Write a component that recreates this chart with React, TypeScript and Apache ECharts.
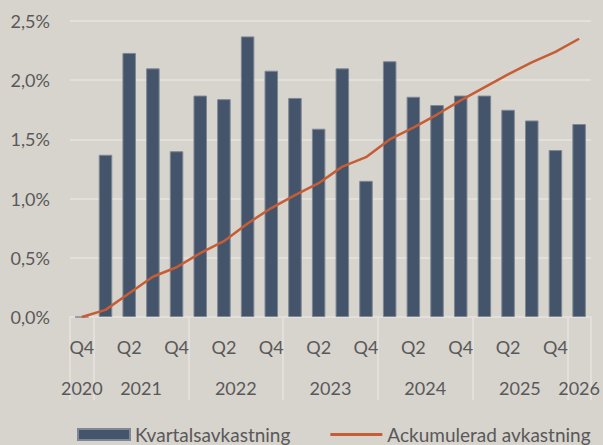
import React, { useEffect, useRef } from "react";
import * as echarts from "echarts";

const quarters = ["Q4", "Q1", "Q2", "Q3", "Q4", "Q1", "Q2", "Q3", "Q4", "Q1", "Q2", "Q3", "Q4", "Q1", "Q2", "Q3", "Q4", "Q1", "Q2", "Q3", "Q4", "Q1"];
const years = ["2020", "2021", "2022", "2023", "2024", "2025", "2026"];
const quartersPerYear = [1, 4, 4, 4, 4, 4, 1];
const quarterlyReturn = [0, 1.37, 2.23, 2.1, 1.4, 1.87, 1.84, 2.37, 2.08, 1.85, 1.59, 2.1, 1.15, 2.16, 1.86, 1.79, 1.87, 1.87, 1.75, 1.66, 1.41, 1.63];
const cumulativeReturn = [0, 0.06, 0.2, 0.34, 0.42, 0.54, 0.64, 0.79, 0.92, 1.03, 1.13, 1.27, 1.35, 1.5, 1.6, 1.71, 1.83, 1.94, 2.05, 2.15, 2.24, 2.35];
const seriesNames = ["Kvartalsavkastning", "Ackumulerad avkastning"];

const yearStarts: number[] = [];
const yearCenters: number[] = [];
{
  let s = 0;
  quartersPerYear.forEach((c) => {
    yearStarts.push(s);
    yearCenters.push(s + c / 2);
    s += c;
  });
}

const FONT = "Lato";
const TEXT = "#595959";
const GRIDC = "#e3e0dc";

export default function App() {
  const ref = useRef<HTMLDivElement>(null);
  useEffect(() => {
    if (!ref.current) return;
    const chart = echarts.init(ref.current, null, { renderer: "svg" });
    chart.setOption({
      animation: false,
      backgroundColor: "#d7d3cd",
      textStyle: { fontFamily: FONT },
      grid: { left: 70, right: 11, top: 21, bottom: 128 },
      legend: {
        top: 425,
        left: 77,
        itemWidth: 52,
        itemHeight: 11,
        itemGap: 40,
        padding: 0,
        textStyle: { fontFamily: FONT, fontSize: 19, color: TEXT },
        data: [
          { name: seriesNames[0], icon: "rect" },
          { name: seriesNames[1], icon: "path://M0,0H52V3H0Z" },
        ],
      },
      xAxis: [
        {
          type: "category",
          data: quarters,
          boundaryGap: true,
          axisLine: { show: true, lineStyle: { color: GRIDC, width: 2 } },
          axisTick: {
            show: true,
            length: 83,
            interval: (i: number) => yearStarts.includes(i),
            lineStyle: { color: GRIDC, width: 2 },
          },
          axisLabel: {
            interval: 1,
            margin: 21,
            fontFamily: FONT,
            fontSize: 18,
            color: TEXT,
          },
        },
        {
          type: "value",
          position: "bottom",
          min: 0,
          max: quarters.length,
          interval: 0.5,
          axisLine: { show: false },
          axisTick: { show: false },
          splitLine: { show: false },
          axisLabel: {
            margin: 62,
            fontFamily: FONT,
            fontSize: 18,
            color: TEXT,
            showMinLabel: true,
            showMaxLabel: true,
            formatter: (v: number) => {
              const i = yearCenters.findIndex((c) => Math.abs(c - v) < 0.01);
              return i >= 0 ? years[i] : "";
            },
          },
        },
      ],
      yAxis: {
        type: "value",
        min: 0,
        max: 2.5,
        interval: 0.5,
        axisLine: { show: false },
        axisTick: { show: false },
        splitLine: { show: true, lineStyle: { color: GRIDC, width: 2 } },
        axisLabel: {
          margin: 20,
          fontFamily: FONT,
          fontSize: 18,
          color: TEXT,
          formatter: (v: number) => v.toFixed(1).replace(".", ",") + "%",
        },
      },
      series: [
        {
          name: seriesNames[0],
          type: "bar",
          data: quarterlyReturn,
          barCategoryGap: "43%",
          itemStyle: { color: "#44546a", borderColor: "#7d8795", borderWidth: 1 },
        },
        {
          name: seriesNames[1],
          type: "line",
          data: cumulativeReturn,
          symbol: "none",
          showSymbol: false,
          smooth: false,
          lineStyle: { color: "#c65d35", width: 2.5 },
          itemStyle: { color: "#c65d35" },
        },
      ],
    });
    return () => chart.dispose();
  }, []);
  return (
    <div
      ref={ref}
      style={{ position: "absolute", left: 0, top: 0, width: 603, height: 445 }}
    />
  );
}
